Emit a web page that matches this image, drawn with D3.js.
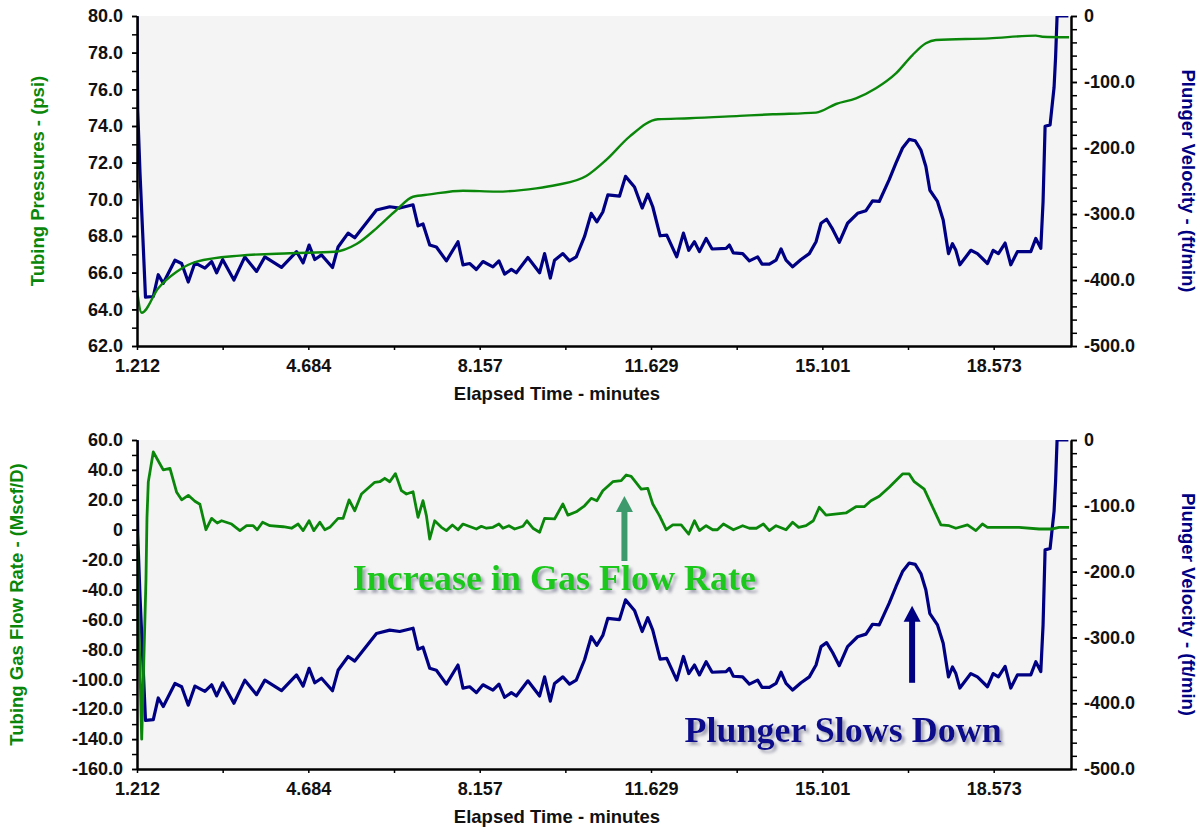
<!doctype html>
<html>
<head>
<meta charset="utf-8">
<title>Plunger lift cycle</title>
<style>
  body { margin:0; background:#fff; }
  svg { display:block; font-family:"Liberation Sans", Arial, sans-serif; }
  .axis path, .axis line { stroke:#000; }
  .axis path { stroke-width:2px; }
  .axis line { stroke-width:1.5px; }
  .axis text { font-size:18px; font-weight:bold; fill:#111; font-family:"Liberation Sans", Arial, sans-serif; }
  .title { font-size:18.5px; font-weight:bold; }
  .note { font-family:"Liberation Serif", "Times New Roman", serif; font-weight:bold; font-size:36px; }
</style>
<script src="https://cdn.jsdelivr.net/npm/d3@7"></script>
</head>
<body>
<svg id="chart" width="1199" height="827"></svg>
<script>
// tick labels on the time axis
var xTickLabels = ["1.212", "4.684", "8.157", "11.629", "15.101", "18.573"]
var pressureTicks = [62, 64, 66, 68, 70, 72, 74, 76, 78, 80]
var flowTicks = [-160, -140, -120, -100, -80, -60, -40, -20, 0, 20, 40, 60]
var velocityTicks = [-500, -400, -300, -200, -100, 0]

// plunger velocity (ft/min), same series in both panels  [minutes, value]
var plungerVelocity = [
  [1.212,0],[1.226,-142],[1.273,-238],[1.327,-329],[1.384,-426],[1.542,-425],[1.643,-392],[1.744,-405],
  [1.981,-370],[2.117,-375],[2.251,-403],[2.386,-374],[2.589,-382],[2.724,-372],[2.826,-389],[2.947,-369],
  [3.176,-400],[3.398,-365],[3.635,-387],[3.803,-365],[4.141,-381],[4.445,-357],[4.579,-374],[4.700,-347],
  [4.816,-369],[4.951,-362],[5.174,-381],[5.287,-350],[5.490,-329],[5.625,-336],[6.065,-294],[6.334,-289],
  [6.536,-291],[6.806,-286],[6.907,-318],[7.008,-315],[7.144,-347],[7.279,-350],[7.482,-371],[7.717,-342],
  [7.818,-377],[7.954,-375],[8.089,-384],[8.223,-372],[8.425,-380],[8.547,-371],[8.662,-391],[8.798,-384],
  [8.899,-389],[9.134,-366],[9.371,-389],[9.472,-360],[9.588,-397],[9.674,-370],[9.843,-360],[9.978,-371],
  [10.114,-365],[10.282,-334],[10.417,-299],[10.531,-312],[10.652,-297],[10.754,-271],[10.990,-273],[11.112,-243],
  [11.294,-259],[11.450,-291],[11.563,-270],[11.664,-289],[11.814,-333],[11.948,-332],[12.150,-365],[12.286,-329],
  [12.393,-355],[12.509,-342],[12.610,-357],[12.746,-337],[12.867,-353],[13.151,-352],[13.217,-347],[13.298,-359],
  [13.486,-360],[13.622,-371],[13.790,-365],[13.879,-376],[14.027,-376],[14.163,-370],[14.264,-353],[14.365,-370],
  [14.499,-380],[14.669,-369],[14.837,-360],[14.973,-342],[15.074,-314],[15.187,-308],[15.309,-323],[15.444,-343],
  [15.612,-314],[15.815,-299],[15.985,-295],[16.118,-280],[16.254,-281],[16.456,-248],[16.592,-223],[16.726,-200],
  [16.861,-187],[16.983,-189],[17.098,-203],[17.199,-228],[17.280,-264],[17.434,-281],[17.550,-309],[17.657,-360],
  [17.738,-345],[17.807,-355],[17.888,-377],[18.110,-355],[18.244,-360],[18.447,-375],[18.562,-355],[18.669,-360],
  [18.805,-344],[18.920,-377],[19.054,-357],[19.325,-357],[19.427,-337],[19.528,-352],[19.574,-281],[19.615,-167],
  [19.716,-165],[19.797,-108],[19.828,-62],[19.858,0],[20.087,0]
]

// tubing pressure (psi)
var tubingPressure = [
  [1.212,65.05],[1.307,63.81],[1.643,65.15],[2.016,66.05],[2.421,66.60],[3.297,66.93],[4.310,67.06],[5.221,67.14],
  [5.660,67.56],[6.065,68.42],[6.470,69.42],[6.806,70.14],[7.144,70.27],[7.818,70.47],[8.494,70.42],[9.304,70.60],
  [9.709,70.78],[10.316,71.27],[10.721,72.15],[11.193,73.42],[11.766,74.37],[12.408,74.42],[13.420,74.55],[14.094,74.64],
  [14.973,74.73],[15.378,75.20],[15.782,75.51],[16.187,76.06],[16.592,76.87],[16.928,77.87],[17.199,78.51],[17.402,78.69],
  [18.481,78.78],[19.427,78.93],[19.560,78.87],[20.100,78.84]
]

// tubing gas flow rate (Mscf/D)
var gasFlowRate = [
  [1.212,-2],[1.252,-66],[1.307,-140],[1.394,-33],[1.414,8],[1.441,32],[1.542,52],[1.744,40],[1.880,41],[2.016,25],
  [2.117,20],[2.251,23],[2.386,19],[2.487,17],[2.609,0],[2.724,7.6],[2.838,4.5],[2.927,6],[3.129,3.8],[3.297,-0.6],
  [3.433,2.7],[3.567,2.7],[3.648,0],[3.757,5],[3.905,2.7],[4.174,2],[4.344,1],[4.478,3.8],[4.579,-0.6],[4.700,6],
  [4.795,-0.6],[4.917,5],[5.018,0],[5.119,1.6],[5.287,7.6],[5.389,7.6],[5.510,20],[5.625,12.7],[5.761,23.9],[6.030,31.7],
  [6.132,32.1],[6.233,34.4],[6.334,32.1],[6.449,37.5],[6.571,26.1],[6.672,23.9],[6.806,25.4],[6.907,8.3],[7.008,19.4],[7.077,9.4],
  [7.144,-6.2],[7.245,6],[7.381,1.6],[7.482,-0.6],[7.603,3.2],[7.717,0],[7.818,3.8],[8.089,0.5],[8.190,2.3],[8.292,1],
  [8.425,1.6],[8.547,3.8],[8.628,1],[8.749,2.7],[8.865,0.5],[9.033,2.3],[9.114,6],[9.235,1],[9.371,-1.7],[9.472,7.6],
  [9.674,7.2],[9.843,17.2],[9.944,9.8],[10.114,12],[10.282,16],[10.417,21],[10.531,19.4],[10.652,26.1],[10.855,32.1],[11.025,32.8],
  [11.126,36.6],[11.227,35.7],[11.430,27.2],[11.563,27.7],[11.664,17.2],[11.800,9.4],[11.936,0],[12.070,3.2],[12.240,3.2],[12.393,-2.9],
  [12.509,6],[12.610,-0.6],[12.746,2.7],[12.879,0],[12.974,0],[13.096,3.8],[13.298,0],[13.486,2.7],[13.622,1],[13.764,1],
  [13.906,3.8],[14.027,-0.6],[14.163,2.7],[14.365,0],[14.499,5],[14.620,1.6],[14.770,2.7],[14.918,6],[15.039,15],[15.175,9.8],
  [15.580,11.2],[15.782,15.4],[15.950,15.4],[16.086,19.4],[16.254,22.4],[16.456,28.4],[16.726,37.3],[16.861,37.3],[16.963,32.1],[17.165,27.2],
  [17.503,3.2],[17.671,2.7],[17.807,1],[18.042,3.2],[18.212,-0.6],[18.345,3.8],[18.447,1.6],[19.088,1.6],[19.493,0.5],[19.763,0.5],
  [19.898,1.6],[20.100,1.6]
]

var green = "#0a870a", navy = "#000083"
var svg = d3.select("#chart")

var x = d3.scaleLinear().domain([1.212, 20.14]).range([137, 1071])
var xTicks = xTickLabels.map(Number)
var xMinor = xTicks.slice(1).map(function(d, i) { return (d + xTicks[i]) / 2 })

var defs = svg.append("defs")
var sh = defs.append("filter").attr("id", "shadow").attr("x", "-5%").attr("y", "-30%").attr("width", "115%").attr("height", "170%")
sh.append("feDropShadow").attr("dx", 3).attr("dy", 3).attr("stdDeviation", 1.6)
  .attr("flood-color", "#8a8aa0").attr("flood-opacity", 0.75)

function minorOf(ticks, step) {
  var out = []
  for (var v = ticks[0]; v <= ticks[ticks.length-1] + 1e-9; v += step) out.push(+v.toFixed(3))
  return out
}
function fmt(d) { return d === 0 ? "0" : d.toFixed(1) }

function panel(id, top, bottom, leftDomain, leftTicks, leftStep, leftTitle, leftTitleX, greenSeries, greenWidth, curve) {
  var g = svg.append("g").attr("id", id)
  var yL = d3.scaleLinear().domain(leftDomain).range([bottom, top])
  var yR = d3.scaleLinear().domain([-500, 0]).range([bottom, top])

  g.append("rect").attr("x", x.range()[0]).attr("y", top)
    .attr("width", x.range()[1] - x.range()[0]).attr("height", bottom - top).attr("fill", "#f4f4f4")

  defs.append("clipPath").attr("id", id + "clip").append("rect")
    .attr("x", x.range()[0]).attr("y", top).attr("width", x.range()[1] - x.range()[0]).attr("height", bottom - top)

  var lines = g.append("g").attr("clip-path", "url(#" + id + "clip)")
  lines.append("path").datum(plungerVelocity)
    .attr("d", d3.line().x(function(d) { return x(d[0]) }).y(function(d) { return yR(d[1]) }))
    .attr("fill", "none").attr("stroke", navy).attr("stroke-width", 3.2).attr("stroke-linejoin", "round")
  lines.append("path").datum(greenSeries)
    .attr("d", d3.line().curve(curve).x(function(d) { return x(d[0]) }).y(function(d) { return yL(d[1]) }))
    .attr("fill", "none").attr("stroke", green).attr("stroke-width", greenWidth).attr("stroke-linejoin", "round")

  // axes: minor ticks first, then major ticks with labels
  g.append("g").attr("class", "axis").attr("transform", "translate(0," + bottom + ")")
    .call(d3.axisBottom(x).tickValues(xMinor).tickSize(4).tickSizeOuter(0).tickFormat(""))
  g.append("g").attr("class", "axis").attr("transform", "translate(0," + bottom + ")")
    .call(d3.axisBottom(x).tickValues(xTicks).tickSize(4).tickSizeOuter(0).tickPadding(9)
      .tickFormat(function(d, i) { return xTickLabels[i] }))

  g.append("g").attr("class", "axis").attr("transform", "translate(" + x.range()[0] + ",0)")
    .call(d3.axisLeft(yL).tickValues(minorOf(leftTicks, leftStep)).tickSize(5).tickSizeOuter(0).tickFormat(""))
  g.append("g").attr("class", "axis").attr("transform", "translate(" + x.range()[0] + ",0)")
    .call(d3.axisLeft(yL).tickValues(leftTicks).tickSize(5).tickSizeOuter(0).tickPadding(9).tickFormat(fmt))

  g.append("g").attr("class", "axis").attr("transform", "translate(" + x.range()[1] + ",0)")
    .call(d3.axisRight(yR).tickValues(minorOf(velocityTicks, 20)).tickSize(6).tickSizeOuter(0).tickFormat(""))
  g.append("g").attr("class", "axis").attr("transform", "translate(" + x.range()[1] + ",0)")
    .call(d3.axisRight(yR).tickValues(velocityTicks).tickSize(6).tickSizeOuter(0).tickPadding(7).tickFormat(fmt))

  var mid = (top + bottom) / 2
  g.append("text").attr("class", "title").attr("fill", green).attr("text-anchor", "middle").attr("dy", "0.35em")
    .attr("transform", "translate(" + leftTitleX + "," + mid + ") rotate(-90)").text(leftTitle)
  g.append("text").attr("class", "title").attr("fill", navy).attr("text-anchor", "middle").attr("dy", "0.35em")
    .attr("transform", "translate(1188," + mid + ") rotate(90)").text("Plunger Velocity - (ft/min)")
  g.append("text").attr("class", "title").attr("fill", "#111").attr("text-anchor", "middle")
    .attr("x", 557).attr("y", bottom + 54).text("Elapsed Time - minutes")

  return { yL: yL, yR: yR, g: g }
}

panel("top", 16, 346, [62, 80], pressureTicks, 1, "Tubing Pressures - (psi)", 38, tubingPressure, 2.4, d3.curveMonotoneX)
var bot = panel("bottom", 440, 769, [-160, 60], flowTicks, 10, "Tubing Gas Flow Rate - (Mscf/D)", 17, gasFlowRate, 2.8, d3.curveLinear)

// annotations in the lower panel
function arrow(g, x0, yTail, yTip, color) {
  g.append("line").attr("x1", x0).attr("x2", x0).attr("y1", yTail).attr("y2", yTip + 14)
    .attr("stroke", color).attr("stroke-width", 6)
  g.append("path").attr("d", "M" + (x0 - 8.5) + "," + (yTip + 16) + "L" + x0 + "," + yTip + "L" + (x0 + 8.5) + "," + (yTip + 16) + "Z")
    .attr("fill", color)
}
arrow(bot.g, x(11.09), bot.yL(-20.9), bot.yL(22.6), "#3c9a6c")
arrow(bot.g, x(16.92), bot.yR(-369), bot.yR(-252), navy)

bot.g.append("text").attr("class", "note").attr("filter", "url(#shadow)")
  .attr("x", x(5.585)).attr("y", bot.yL(-40.3)).attr("fill", "#1ec81e").text("Increase in Gas Flow Rate")
bot.g.append("text").attr("class", "note").attr("filter", "url(#shadow)")
  .attr("x", x(12.306)).attr("y", bot.yL(-141.9)).attr("fill", "#0a0a8c").text("Plunger Slows Down")
</script>
</body>
</html>
